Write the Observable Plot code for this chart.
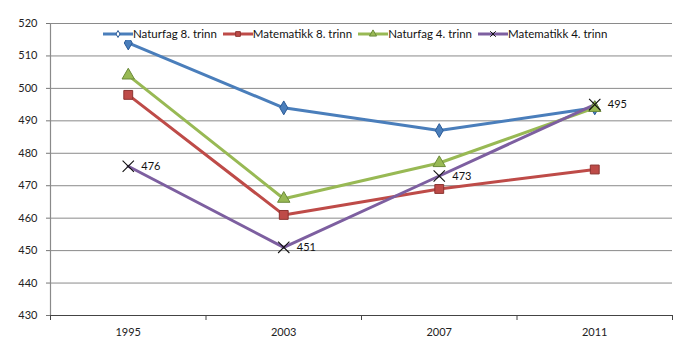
<!DOCTYPE html>
<html>
<head>
<meta charset="utf-8">
<script src="https://cdn.jsdelivr.net/npm/d3@7"></script>
<script src="https://cdn.jsdelivr.net/npm/@observablehq/plot@0.6"></script>
<style>
  html, body { margin: 0; padding: 0; background: #fff; }
  #wrap { position: relative; width: 700px; height: 361px; font-family: Lato, "Liberation Sans", sans-serif; }
  #legend { position: absolute; left: 103px; top: 27px; display: flex; align-items: center; font-size: 11.5px; color: #111; white-space: nowrap; background: #fff; padding: 0; }
  #legend .item { display: flex; align-items: center; margin-right: 6px; }
  #legend svg { margin-right: 0; }
</style>
</head>
<body>
<div id="wrap">
  <div id="chart"></div>
  <div id="legend"></div>
</div>
<script>
const years = ["1995", "2003", "2007", "2011"];
const seriesNames = ["Naturfag 8. trinn", "Matematikk 8. trinn", "Naturfag 4. trinn", "Matematikk 4. trinn"];
const naturfag8 = [514, 494, 487, 494];
const matematikk8 = [498, 461, 469, 475];
const naturfag4 = [504, 466, 477, 494];
const matematikk4 = [476, 451, 473, 495];
const yTicks = [430, 440, 450, 460, 470, 480, 490, 500, 510, 520];

const colors = ["#4a7ebb", "#be4b48", "#98b954", "#7d5fa0"];
const markerFill = ["#4a7ebb", "#be4b48", "#98b954", "none"];
const markerStroke = ["#2a5a96", "#8c3431", "#6b8a3a", "#111"];
const symbols = ["diamond", "square", "triangle", "times"];
const markerR = [4.2, 5, 4.6, 5.2];

const allValues = [naturfag8, matematikk8, naturfag4, matematikk4];
const series = seriesNames.map((name, s) =>
  allValues[s].map((v, i) => ({ name, s, i, year: years[i], value: v }))
);
const boundaries = d3.range(years.length + 1).map(k => k - 0.5);

const marks = [
  Plot.gridY(yTicks, { stroke: "#8a8a8a", strokeOpacity: 1, strokeWidth: 1 }),
  Plot.axisY(yTicks, { tickSize: 4, tickPadding: 9, label: null, stroke: "#777", color: "#222" }),
  Plot.ruleX([-0.5], { stroke: "#8a8a8a", strokeWidth: 1.2 }),
  Plot.ruleY([430], { stroke: "#444", strokeWidth: 1.2 }),
  Plot.axisX(boundaries, { tickSize: 5, tickFormat: () => "", label: null, stroke: "#444" }),
  Plot.axisX(d3.range(years.length), { tickSize: 0, tickPadding: 13, tickFormat: i => years[i], label: null, color: "#222" })
];

series.forEach((data, s) => {
  marks.push(Plot.line(data, { x: "i", y: "value", stroke: colors[s], strokeWidth: 3, curve: "linear" }));
});
series.forEach((data, s) => {
  marks.push(Plot.dot(data, {
    x: "i", y: "value", symbol: () => symbols[s], r: markerR[s],
    fill: markerFill[s], stroke: markerStroke[s], strokeWidth: s === 3 ? 1.1 : 1
  }));
});
marks.push(Plot.text(series[3], { x: "i", y: "value", text: d => String(d.value), dx: 13, textAnchor: "start", fill: "#111", fontSize: 11 }));

const chart = Plot.plot({
  width: 700,
  height: 361,
  marginLeft: 50,
  marginRight: 28,
  marginTop: 23,
  marginBottom: 46,
  x: { type: "linear", domain: [-0.5, years.length - 0.5] },
  y: { domain: [430, 520] },
  style: { fontFamily: "Lato, 'Liberation Sans', sans-serif", fontSize: "11px", background: "#fff" },
  marks
});
document.getElementById("chart").appendChild(chart);

// Legend
const legend = d3.select("#legend");
seriesNames.forEach((name, s) => {
  const item = legend.append("div").attr("class", "item");
  const svg = item.append("svg").attr("width", 30).attr("height", 10);
  svg.append("line").attr("x1", 0).attr("x2", 30).attr("y1", 5).attr("y2", 5)
    .attr("stroke", colors[s]).attr("stroke-width", 3);
  const sym = d3.symbol().type(
    s === 0 ? d3.symbolDiamond : s === 1 ? d3.symbolSquare : s === 2 ? d3.symbolTriangle : d3.symbolTimes
  ).size(s === 0 ? 14 : 22);
  svg.append("path").attr("d", sym()).attr("transform", "translate(15,5)")
    .attr("fill", s === 3 ? "none" : (s === 0 ? "#fff" : markerFill[s]))
    .attr("stroke", markerStroke[s]).attr("stroke-width", 1);
  item.append("span").text(name);
});
</script>
</body>
</html>
